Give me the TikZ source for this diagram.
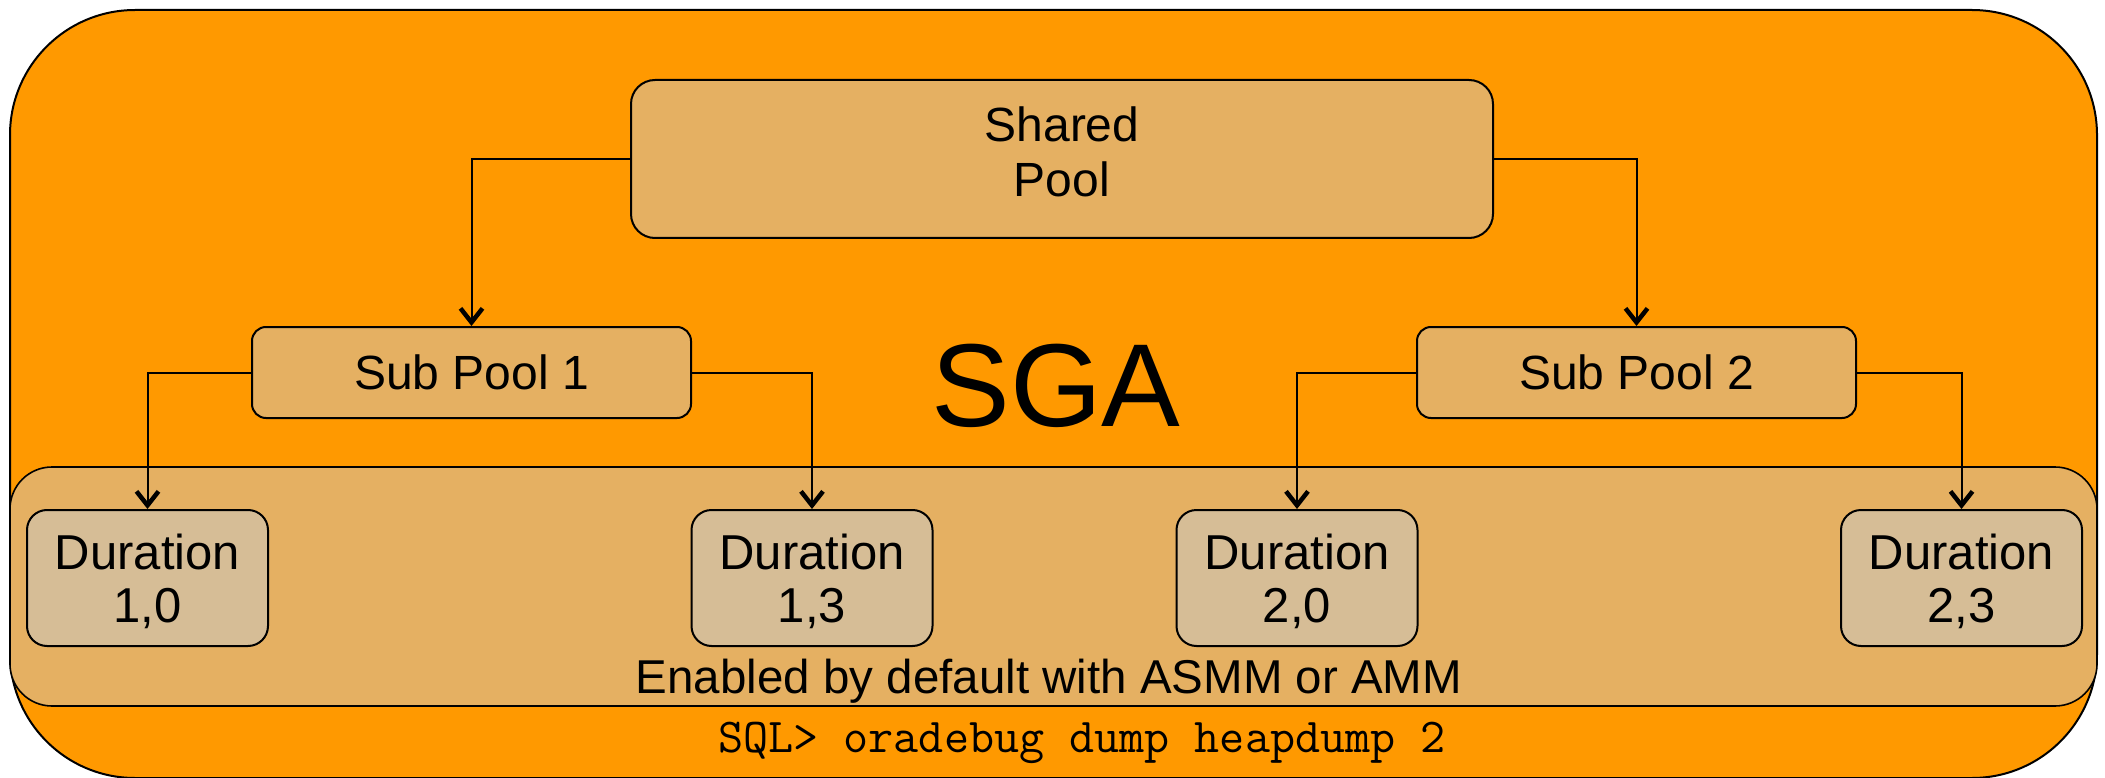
\documentclass[tikz,border=0pt]{standalone}
\usepackage{fontspec}
\setmainfont{Liberation Sans}
\usetikzlibrary{arrows.meta}
\definecolor{sgaorange}{RGB}{255,153,0}
\definecolor{poolfill}{RGB}{229,176,98}
\definecolor{durfill}{RGB}{214,189,150}
\begin{document}
\begin{tikzpicture}[x=1pt,y=-1pt,
  box/.style={draw=black, line width=2pt, align=center, inner sep=0pt},
  poolbox/.style={box, fill=poolfill, font=\fontsize{48}{55}\selectfont},
  durbox/.style={box, fill=durfill, minimum width=241pt, minimum height=136pt,
    rounded corners=20pt, font=\fontsize{49}{53}\selectfont, text depth=0pt},
  conn/.style={line width=2pt, -{Straight Barb[length=14pt,width=22pt,line width=4.5pt]}},
]
\useasboundingbox (0,0) rectangle (2105,778);
\node[box, fill=sgaorange, minimum width=2087pt, minimum height=768pt,
  rounded corners=125pt] (sga) at (1053.5,394) {};
\node[box, line width=1.6pt, fill=poolfill, minimum width=2087pt, minimum height=239pt,
  rounded corners=42pt] (band) at (1053.5,586.5) {};
\node[poolbox, minimum width=862pt, minimum height=158pt, rounded corners=24pt]
  (shared) at (1062,159) {Shared\\Pool\rule[-14pt]{0pt}{0pt}};
\node[poolbox, minimum width=439pt, minimum height=91pt, rounded corners=14pt]
  (sub1) at (471.5,372.5) {Sub Pool 1};
\node[poolbox, minimum width=439pt, minimum height=91pt, rounded corners=14pt]
  (sub2) at (1636.5,372.5) {Sub Pool 2};
\node[durbox] (d10) at (147.5,578) {Duration\\1,0};
\node[durbox] (d13) at (812,578) {Duration\\1,3};
\node[durbox] (d20) at (1297,578) {Duration\\2,0};
\node[durbox] (d23) at (1961.5,578) {Duration\\2,3};
\draw[conn] (shared.west) -| (sub1.north);
\draw[conn] (shared.east) -| (sub2.north);
\draw[conn] (sub1.west) -| (d10.north);
\draw[conn] (sub1.east) -| (d13.north);
\draw[conn] (sub2.west) -| (d20.north);
\draw[conn] (sub2.east) -| (d23.north);
\node[font=\fontsize{118}{118}\selectfont, inner sep=0pt] (sgalabel) at (1056,386) {SGA};
\node[font=\fontsize{47.5}{47.5}\selectfont, inner sep=0pt, anchor=base] (enabled) at (1049,693)
  {Enabled by default with ASMM or AMM};
\node[font=\ttfamily\fontsize{48.7}{48.7}\selectfont, inner sep=0pt, anchor=base] (sql) at (1082,752)
  {SQL> oradebug dump heapdump 2};
\end{tikzpicture}
\end{document}
